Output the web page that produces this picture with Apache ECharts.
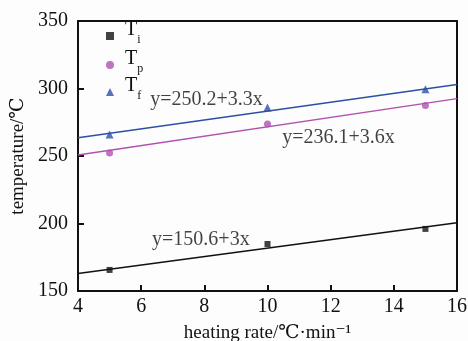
<!DOCTYPE html>
<html><head><meta charset="utf-8">
<script src="https://cdn.jsdelivr.net/npm/echarts@6/dist/echarts.min.js"></script>
<style>html,body{margin:0;padding:0;background:#fdfdfd}#c{width:468px;height:341px}</style>
</head><body><div id="c"></div>
<script>
// Data
const heatingRates = [5, 10, 15];
const Ti = [165.6, 184.8, 196.0];
const Tp = [252.2, 273.7, 287.5];
const Tf = [266.0, 286.0, 299.4];
// fitted lines (end points at x=4 and x=16)
const fitX = [4, 16];
const fitTi = [163.0, 200.5];
const fitTp = [250.7, 292.5];
const fitTf = [263.6, 303.0];
// annotations
const annotTexts = ['y=250.2+3.3x', 'y=236.1+3.6x', 'y=150.6+3x'];
const annotX = [6.27, 10.45, 6.33];
const annotY = [291.5, 263.3, 187.8];
const xTicks = {min: 4, max: 16, interval: 2};
const yTicks = {min: 150, max: 350, interval: 50};

const serif = '"Liberation Serif","DejaVu Serif",serif';
const colors = {Ti: '#111111', Tp: '#b050b0', Tf: '#2d4fa6'};
const subs = {Ti: 'i', Tp: 'p', Tf: 'f'};

const zip = (xs, ys) => xs.map((x, i) => [x, ys[i]]);

function legendFor(name, top) {
  return {
    data: [name], left: 106, top: top, orient: 'vertical',
    itemWidth: 8, itemHeight: 8, itemGap: 0, padding: 0,
    formatter: n => '{t|T}{s|' + subs[n] + '}',
    textStyle: {
      rich: {
        t: {fontFamily: serif, fontSize: 20, lineHeight: 20, color: '#111', padding: [0, 0, 6, 6], verticalAlign: 'bottom'},
        s: {fontFamily: serif, fontSize: 12, lineHeight: 12, color: '#111', verticalAlign: 'bottom'}
      }
    }
  };
}

const axisCommon = {
  axisLine: {show: true, lineStyle: {color: '#111', width: 2}},
  splitLine: {show: false}
};

const chart = echarts.init(document.getElementById('c'));
chart.setOption({
  backgroundColor: '#fdfdfd',
  animation: false,
  grid: {left: 78, right: 11, top: 21, bottom: 50, outerBoundsMode: 'none', containLabel: false},
  legend: [legendFor('Ti', 20), legendFor('Tp', 49), legendFor('Tf', 76)],
  xAxis: [{
    type: 'value', min: xTicks.min, max: xTicks.max, interval: xTicks.interval,
    name: 'heating rate/℃·min⁻¹', nameLocation: 'middle', nameGap: 33,
    nameTextStyle: {fontFamily: serif, fontSize: 19, color: '#111'},
    axisLine: {lineStyle: {color: '#111', width: 2}},
    axisTick: {inside: true, length: 6, lineStyle: {color: '#111', width: 2}},
    axisLabel: {fontFamily: serif, fontSize: 20, color: '#111', margin: 6},
    splitLine: {show: false}
  }, Object.assign({
    type: 'value', position: 'top', min: xTicks.min, max: xTicks.max, interval: xTicks.interval,
    axisTick: {show: false}, axisLabel: {show: false}
  }, axisCommon)],
  yAxis: [{
    type: 'value', min: yTicks.min, max: yTicks.max, interval: yTicks.interval,
    name: 'temperature/℃', nameLocation: 'middle', nameGap: 42,
    nameTextStyle: {fontFamily: serif, fontSize: 19, color: '#111'},
    axisLine: {lineStyle: {color: '#111', width: 2}},
    axisTick: {inside: true, length: 6, lineStyle: {color: '#111', width: 2}},
    axisLabel: {fontFamily: serif, fontSize: 20, color: '#111', margin: 10},
    splitLine: {show: false}
  }, Object.assign({
    type: 'value', position: 'right', min: yTicks.min, max: yTicks.max, interval: yTicks.interval,
    axisTick: {show: false}, axisLabel: {show: false}
  }, axisCommon)],
  series: [
    {name: 'Ti', type: 'scatter', symbol: 'rect', symbolSize: 6, itemStyle: {color: colors.Ti}, data: zip(heatingRates, Ti), z: 5},
    {name: 'Tp', type: 'scatter', symbol: 'circle', symbolSize: 7, itemStyle: {color: colors.Tp}, data: zip(heatingRates, Tp), z: 5},
    {name: 'Tf', type: 'scatter', symbol: 'triangle', symbolSize: 8, itemStyle: {color: colors.Tf}, data: zip(heatingRates, Tf), z: 5},
    {name: 'fitTi', type: 'line', showSymbol: false, symbol: 'none', lineStyle: {color: colors.Ti, width: 1.5}, data: zip(fitX, fitTi)},
    {name: 'fitTp', type: 'line', showSymbol: false, symbol: 'none', lineStyle: {color: colors.Tp, width: 1.5}, data: zip(fitX, fitTp)},
    {name: 'fitTf', type: 'line', showSymbol: false, symbol: 'none', lineStyle: {color: colors.Tf, width: 1.5}, data: zip(fitX, fitTf)},
    {name: 'annot', type: 'scatter', symbol: 'circle', symbolSize: 1, silent: true,
      itemStyle: {color: 'rgba(0,0,0,0)'},
      label: {show: true, position: 'right', distance: 0, formatter: '{b}', fontFamily: serif, fontSize: 20, color: '#111'},
      data: annotTexts.map((t, i) => ({name: t, value: [annotX[i], annotY[i]]}))}
  ]
});
</script></body></html>
